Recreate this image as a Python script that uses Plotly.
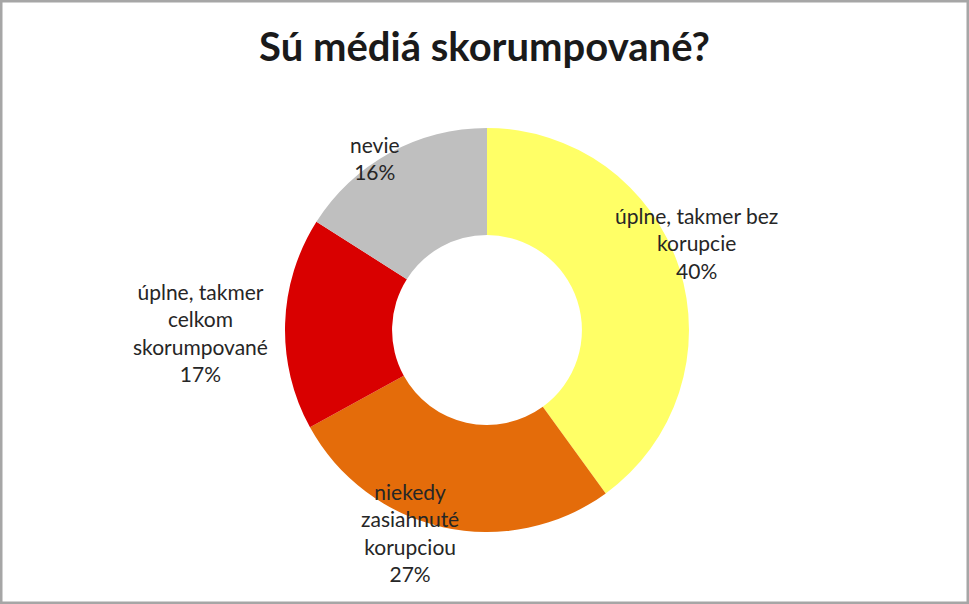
import math
import plotly.graph_objects as go

# data
labels = [
    "úplne, takmer bez korupcie",
    "niekedy zasiahnuté korupciou",
    "úplne, takmer celkom skorumpované",
    "nevie",
]
label_text = [
    "úplne, takmer bez<br>korupcie",
    "niekedy<br>zasiahnuté<br>korupciou",
    "úplne, takmer<br>celkom<br>skorumpované",
    "nevie",
]
values = [40, 27, 17, 16]
colors = ["#FFFF66", "#E46C0A", "#D90000", "#BFBFBF"]

W, H = 969, 604
cx, cy, R = 487, 330, 202  # pie centre / radius in px

# how far out each label sits (fraction of the radius) and small angle nudges
label_r = [1.125, 1.075, 1.42, 1.015]
label_da = [-4.5, 8.2, -2.2, -4.2]

fig = go.Figure()
fig.add_trace(
    go.Pie(
        labels=labels,
        values=values,
        hole=0.47,
        sort=False,
        direction="clockwise",
        rotation=0,
        marker=dict(colors=colors, line=dict(color="white", width=0)),
        textinfo="none",
        hoverinfo="label+percent",
        showlegend=False,
        domain=dict(x=[(cx - R) / W, (cx + R) / W], y=[(H - cy - R) / H, (H - cy + R) / H]),
    )
)

# labels placed around the ring, angle taken from the slice midpoints
total = sum(values)
acc = 0
for i, v in enumerate(values):
    mid = (acc + v / 2) / total * 360 + label_da[i]
    acc += v
    a = math.radians(mid)
    px = cx + math.sin(a) * R * label_r[i]
    py = cy - math.cos(a) * R * label_r[i]
    fig.add_annotation(
        x=px / W,
        y=1 - py / H,
        xref="paper",
        yref="paper",
        xanchor="center",
        yanchor="middle",
        text=label_text[i] + "<br>" + f"{round(v / total * 100)}%",
        showarrow=False,
        font=dict(family="Lato", size=21, color="#262626"),
        align="center",
    )

fig.add_shape(
    type="rect", xref="paper", yref="paper", x0=0, y0=0, x1=1, y1=1,
    line=dict(color="#A6A6A6", width=5),
)

fig.update_layout(
    title=dict(
        text="<b>Sú médiá skorumpované?</b>",
        x=0.5,
        xanchor="center",
        y=1 - 47 / H,
        yanchor="middle",
        font=dict(family="Lato", size=40, color="#1a1a1a"),
    ),
    width=W,
    height=H,
    margin=dict(l=0, r=0, t=0, b=0),
    paper_bgcolor="white",
    plot_bgcolor="white",
)

fig.write_html(
    "out.html",
    config={"displayModeBar": False},
    post_script="document.body.style.margin='0';",
)
